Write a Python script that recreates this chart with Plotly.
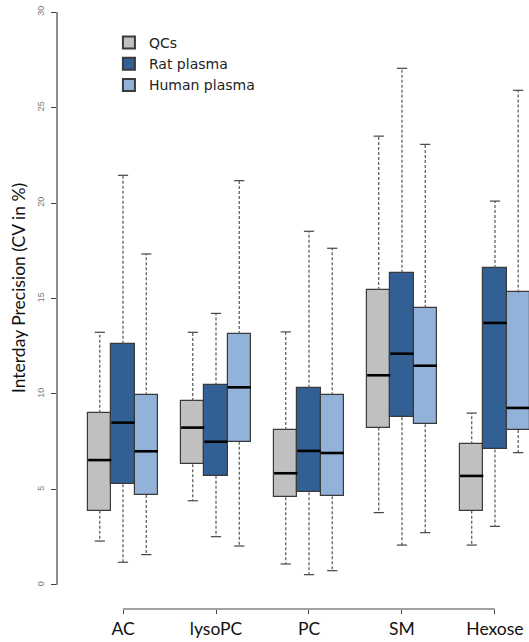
import plotly.graph_objects as go

categories = ["AC", "lysoPC", "PC", "SM", "Hexose"]
series_names = ["QCs", "Rat plasma", "Human plasma"]
colors = ["#c0c0c0", "#325f94", "#92b2da"]

# per series: lists over categories
lower = {
    "QCs":          [2.30, 4.41, 1.10, 3.79, 2.09],
    "Rat plasma":   [1.19, 2.53, 0.54, 2.09, 3.07],
    "Human plasma": [1.59, 2.04, 0.75, 2.74, 6.93],
}
q1 = {
    "QCs":          [3.89, 6.32, 4.59, 8.24, 3.89],
    "Rat plasma":   [5.27, 5.72, 4.85, 8.78, 7.10],
    "Human plasma": [4.71, 7.50, 4.64, 8.41, 8.12],
}
median = {
    "QCs":          [6.54, 8.24, 5.85, 10.98, 5.71],
    "Rat plasma":   [8.50, 7.50, 7.02, 12.11, 13.72],
    "Human plasma": [7.00, 10.35, 6.91, 11.48, 9.27],
}
q3 = {
    "QCs":          [9.02, 9.63, 8.12, 15.45, 7.37],
    "Rat plasma":   [12.63, 10.45, 10.33, 16.35, 16.60],
    "Human plasma": [9.93, 13.14, 9.93, 14.50, 15.32],
}
upper = {
    "QCs":          [13.23, 13.23, 13.25, 23.50, 9.00],
    "Rat plasma":   [21.45, 14.22, 18.52, 27.05, 20.10],
    "Human plasma": [17.33, 21.17, 17.63, 23.07, 25.90],
}
y_ticks = [0, 5, 10, 15, 20, 25, 30]

offsets = [-0.25, 0.0, 0.25]
box_w = 0.25
cap_half = 0.055
groups = list(range(1, len(categories) + 1))
Y_MIN = -1.257

fig = go.Figure()

# whiskers (dashed) and caps
for si, name in enumerate(series_names):
    xs_w, ys_w, xs_c, ys_c = [], [], [], []
    for gi, g in enumerate(groups):
        x = g + offsets[si]
        xs_w += [x, x, None, x, x, None]
        ys_w += [q3[name][gi], upper[name][gi], None, q1[name][gi], lower[name][gi], None]
        xs_c += [x - cap_half, x + cap_half, None, x - cap_half, x + cap_half, None]
        ys_c += [upper[name][gi], upper[name][gi], None, lower[name][gi], lower[name][gi], None]
    fig.add_trace(go.Scatter(x=xs_w, y=ys_w, mode="lines", showlegend=False, hoverinfo="skip",
                             line=dict(color="#555555", width=1.2, dash="3px,2px")))
    fig.add_trace(go.Scatter(x=xs_c, y=ys_c, mode="lines", showlegend=False, hoverinfo="skip",
                             line=dict(color="#444444", width=1.2)))

# boxes as bars
for si, name in enumerate(series_names):
    xs = [g + offsets[si] for g in groups]
    fig.add_trace(go.Bar(
        x=xs, base=q1[name], y=[a - b for a, b in zip(q3[name], q1[name])],
        width=box_w, name=name, marker=dict(color=colors[si], line=dict(color="#3a3a3a", width=1.2)),
    ))

# medians
for si, name in enumerate(series_names):
    xs_m, ys_m = [], []
    for gi, g in enumerate(groups):
        x = g + offsets[si]
        xs_m += [x - box_w / 2, x + box_w / 2, None]
        ys_m += [median[name][gi], median[name][gi], None]
    fig.add_trace(go.Scatter(x=xs_m, y=ys_m, mode="lines", showlegend=False, hoverinfo="skip",
                             line=dict(color="#000000", width=2.6)))

# axis lines (R style)
fig.add_shape(type="line", xref="paper", yref="y", x0=0, x1=0, y0=y_ticks[0], y1=y_ticks[-1],
              line=dict(color="#444444", width=1.2))
fig.add_shape(type="line", xref="x", yref="paper", x0=groups[0], x1=groups[-1], y0=0, y1=0,
              line=dict(color="#444444", width=1.2))

fig.add_annotation(text="Interday Precision (CV in %)", xref="paper", yref="paper",
                   x=-0.080, y=0.538, xanchor="center", yanchor="middle",
                   textangle=-90, showarrow=False,
                   font=dict(family="Lato", size=17.5, color="#111111"))

fig.update_layout(
    width=529, height=642,
    margin=dict(l=57, r=0, t=12, b=33),
    plot_bgcolor="white", paper_bgcolor="white",
    barmode="overlay", bargap=0,
    showlegend=True,
    legend=dict(x=0.11, y=0.975, xanchor="left", yanchor="top", bgcolor="rgba(0,0,0,0)",
                font=dict(family="DejaVu Sans", size=14, color="#222222"),
                tracegroupgap=0, itemsizing="constant"),
    xaxis=dict(range=[0.290, 5.366], tickmode="array", tickvals=groups, ticktext=categories,
               showgrid=False, zeroline=False, showline=False, ticks="outside", ticklen=4,
               tickcolor="#444444", tickfont=dict(family="Lato", size=17.5, color="#111111"),
               automargin=False),
    yaxis=dict(range=[Y_MIN, 30], tickmode="array", tickvals=y_ticks,
               ticktext=[str(v) for v in y_ticks], tickangle=-90,
               showgrid=False, zeroline=False, showline=False, ticks="outside", ticklen=5,
               tickcolor="#444444", tickfont=dict(family="Liberation Sans", size=9, color="#777777"),
               ticklabelstandoff=3, automargin=False),
)

fig.write_html("out.html", post_script="document.body.style.margin='0';",
               config={"displayModeBar": False})
